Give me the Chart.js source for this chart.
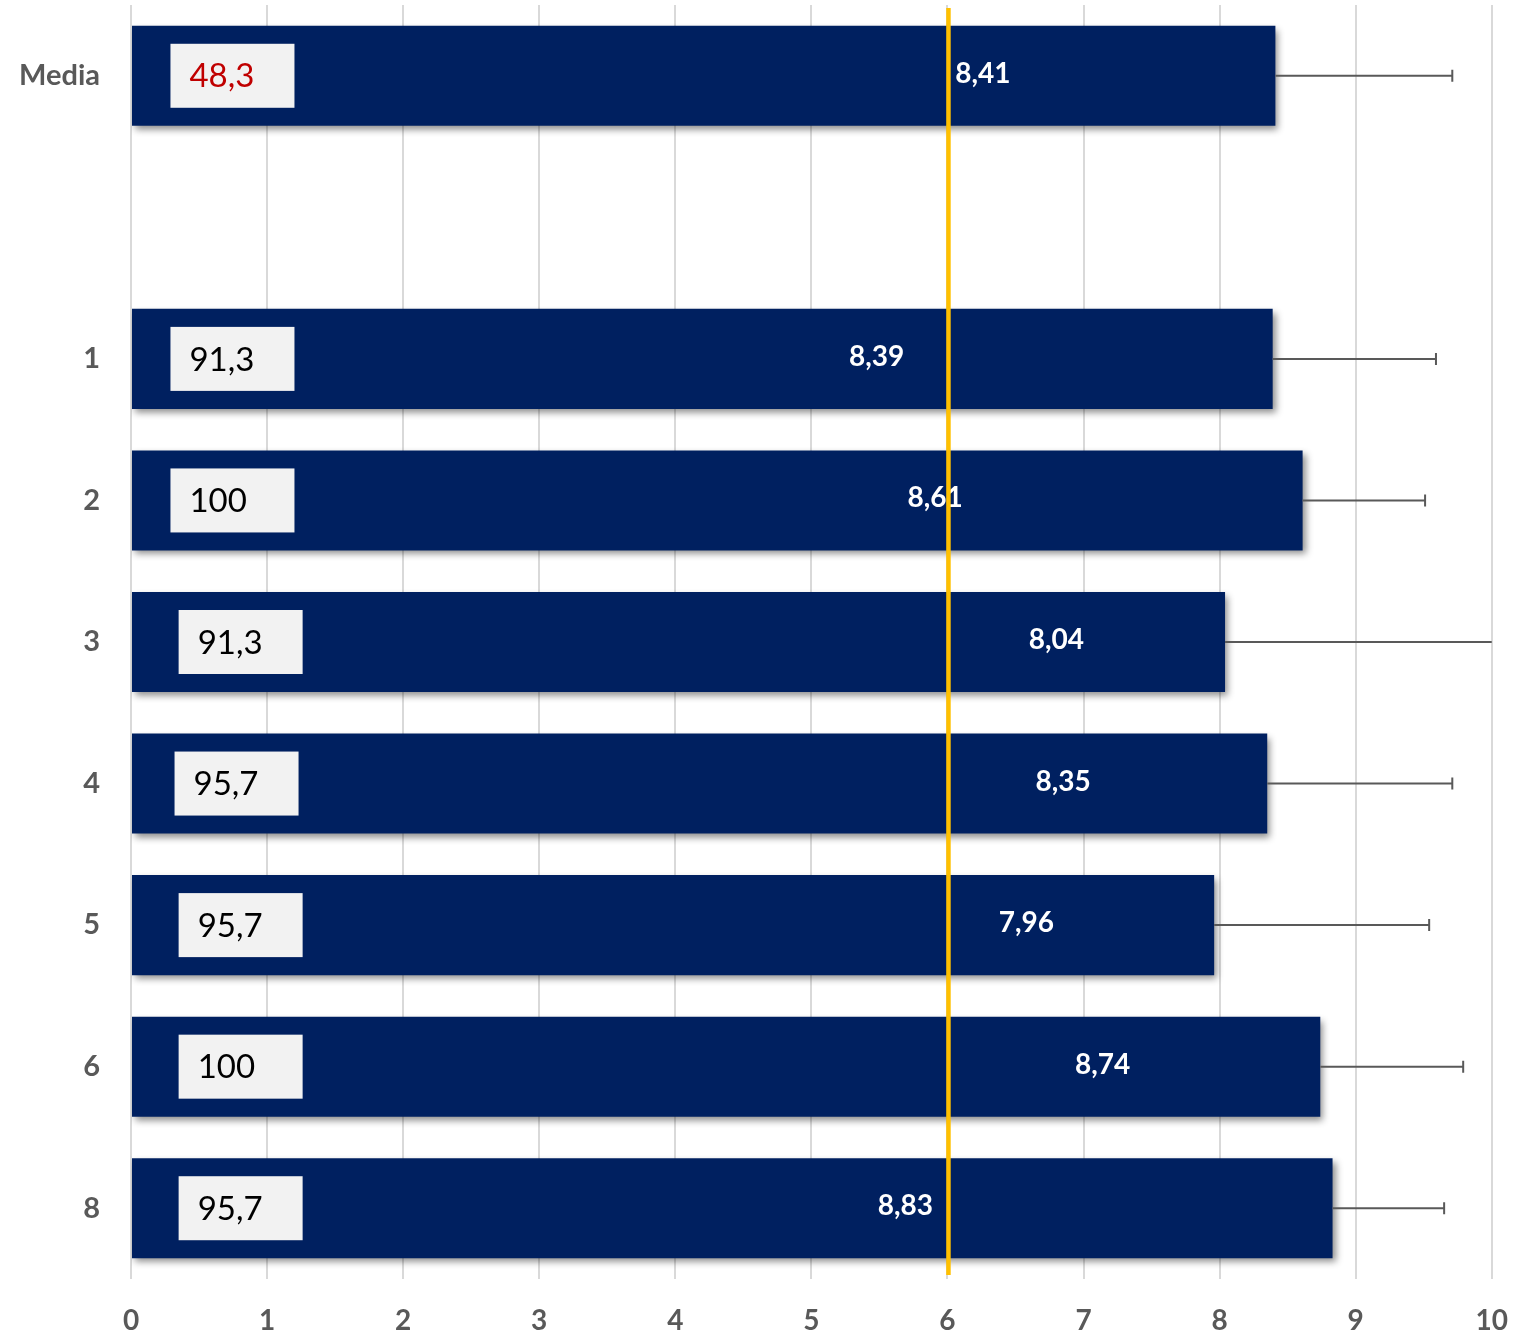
<!DOCTYPE html>
<html>
<head>
<meta charset="utf-8">
<script src="https://cdn.jsdelivr.net/npm/chart.js@4.4.0/dist/chart.umd.min.js"></script>
<style>
  html, body { margin: 0; padding: 0; background: #fff; }
  #wrap { width: 1533px; height: 1335px; }
</style>
</head>
<body>
<div id="wrap"><canvas id="barChart"></canvas></div>
<script>
// categorias (la segunda fila va vacia)
const categories = ['Media', '', '1', '2', '3', '4', '5', '6', '8'];
const scores     = [8.41, null, 8.39, 8.61, 8.04, 8.35, 7.96, 8.74, 8.83];
const errPlus    = [1.30, null, 1.20, 0.90, 2.30, 1.36, 1.58, 1.05, 0.82];
const percents   = ['48,3', '', '91,3', '100', '91,3', '95,7', '95,7', '100', '95,7'];
const xTicks     = [0, 1, 2, 3, 4, 5, 6, 7, 8, 9, 10];
const threshold  = 6;

// donde va cada etiqueta (en unidades del eje)
const labelAt  = [6.26, null, 5.48, 5.91, 6.80, 6.85, 6.58, 7.14, 5.69];
const boxAt    = [0.29, null, 0.29, 0.29, 0.35, 0.32, 0.35, 0.35, 0.35];

const FONT = "Lato, 'Open Sans', sans-serif";

const fmt = v => v.toFixed(2).replace('.', ',');

const shadowPlugin = {
    id: 'barShadow',
    beforeDatasetDraw(chart) {
        const ctx = chart.ctx;
        ctx.save();
        ctx.shadowColor = 'rgba(0, 0, 0, 0.45)';
        ctx.shadowBlur = 7;
        ctx.shadowOffsetX = 3;
        ctx.shadowOffsetY = 4;
    },
    afterDatasetDraw(chart) {
        chart.ctx.restore();
    }
};

const extrasPlugin = {
    id: 'extras',
    afterDatasetsDraw(chart) {
        const ctx = chart.ctx;
        const xs = chart.scales.x;
        const meta = chart.getDatasetMeta(0);
        const area = chart.chartArea;

        ctx.save();
        meta.data.forEach((bar, i) => {
            if (scores[i] === null) return;
            const y = bar.y;

            // barra de error (solo hacia la derecha)
            const x0 = xs.getPixelForValue(scores[i]);
            const x1raw = xs.getPixelForValue(scores[i] + errPlus[i]);
            const x1 = Math.min(x1raw, area.right);
            ctx.strokeStyle = '#595959';
            ctx.lineWidth = 2;
            ctx.beginPath();
            ctx.moveTo(x0, y);
            ctx.lineTo(x1, y);
            if (x1raw <= area.right) {
                ctx.moveTo(x1, y - 6);
                ctx.lineTo(x1, y + 6);
            }
            ctx.stroke();

            // cuadro con porcentaje
            const bx = xs.getPixelForValue(boxAt[i]);
            ctx.fillStyle = '#F2F2F2';
            ctx.fillRect(bx, y - 32, 124, 64);
            ctx.fillStyle = i === 0 ? '#C00000' : '#000000';
            ctx.font = '33px ' + FONT;
            ctx.textAlign = 'left';
            ctx.textBaseline = 'middle';
            ctx.fillText(percents[i], bx + 19, y + 1);

            // valor
            ctx.fillStyle = '#FFFFFF';
            ctx.font = 'bold 28px ' + FONT;
            ctx.textAlign = 'center';
            ctx.fillText(fmt(scores[i]), xs.getPixelForValue(labelAt[i]), y - 2);
        });

        // linea amarilla de referencia
        const tx = xs.getPixelForValue(threshold) + 1;
        ctx.strokeStyle = '#FFC000';
        ctx.lineWidth = 4.5;
        ctx.beginPath();
        ctx.moveTo(tx, area.top + 3);
        ctx.lineTo(tx, area.bottom - 4);
        ctx.stroke();
        ctx.restore();
    }
};

const ctx = document.getElementById('barChart').getContext('2d');
new Chart(ctx, {
    type: 'bar',
    data: {
        labels: categories,
        datasets: [{
            data: scores,
            backgroundColor: '#002060',
            borderWidth: 0,
            barPercentage: 0.707,
            categoryPercentage: 1.0
        }]
    },
    options: {
        indexAxis: 'y',
        responsive: true,
        maintainAspectRatio: false,
        animation: false,
        layout: { padding: { top: 5, right: 41, left: 0, bottom: 0 } },
        plugins: {
            legend: { display: false },
            tooltip: { enabled: false }
        },
        scales: {
            x: {
                min: 0,
                max: 10,
                afterBuildTicks: axis => { axis.ticks = xTicks.map(v => ({ value: v })); },
                afterFit: axis => { axis.height = 56; },
                grid: { color: '#D9D9D9', lineWidth: 2, drawTicks: false },
                border: { display: false },
                ticks: {
                    padding: 25,
                    color: '#595959',
                    font: { family: FONT, size: 28, weight: 'bold' }
                }
            },
            y: {
                afterFit: axis => {
                    axis.width = 131;
                    axis.paddingTop = 0;
                    axis.paddingBottom = 0;
                },
                grid: { display: false, drawTicks: false },
                border: { display: false },
                ticks: {
                    padding: 31,
                    color: '#595959',
                    font: { family: FONT, size: 29, weight: 'bold' }
                }
            }
        }
    },
    plugins: [shadowPlugin, extrasPlugin]
});
</script>
</body>
</html>
